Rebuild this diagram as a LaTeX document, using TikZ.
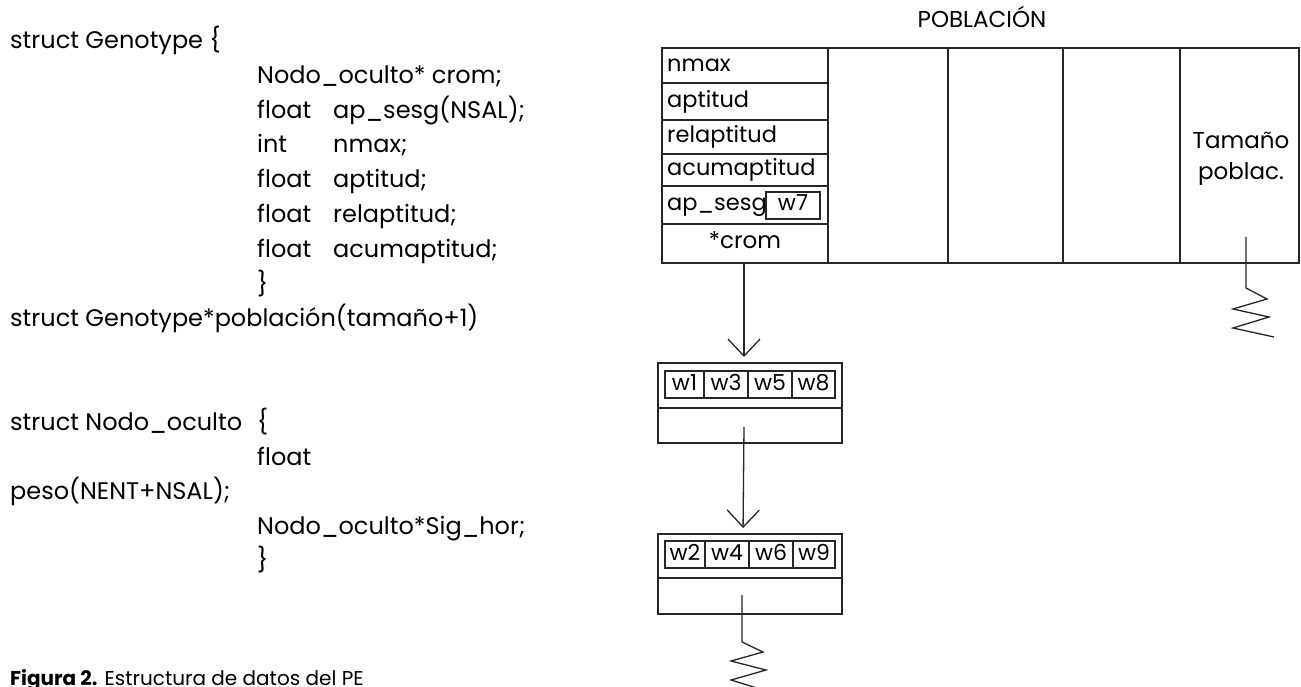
\documentclass[tikz,border=0pt]{standalone}
\usepackage{fontspec}
\setmainfont{Poppins}
\usetikzlibrary{arrows.meta}
\begin{document}
\begin{tikzpicture}[x=1pt,y=-1pt,
  code/.style={anchor=west,inner sep=0pt,text height=0.7em,text depth=0pt,font=\fontsize{24}{28}\selectfont},
  lab/.style={anchor=west,inner sep=0pt,text height=0.7em,text depth=0pt,font=\fontsize{22.5}{27}\selectfont},
  clab/.style={anchor=center,inner sep=0pt,text height=0.7em,text depth=0pt,font=\fontsize{23}{27}\selectfont},
  wlab/.style={anchor=center,inner sep=0pt,text height=0.7em,text depth=0pt,font=\fontsize{22}{26}\selectfont},
  ln/.style={line width=1.3pt,draw=black!85},
  ptr/.style={ln,-{Straight Barb[length=17pt,width=32pt]},shorten >=6pt},
  spring/.style={ln,line join=miter}
]
\useasboundingbox (0,0) rectangle (1301,687);
\fill[white] (0,0) rectangle (1301,687);

% ---- left code: struct Genotype
\node[code] (g0) at (10,45) {struct Genotype \{};
\node[code] (g1) at (257,80) {Nodo\_oculto* crom;};
\node[code] (g2a) at (257,115) {float};
\node[code] (g2b) at (333,115) {ap\_sesg(NSAL);};
\node[code] (g3a) at (257,149) {int};
\node[code] (g3b) at (333,149) {nmax;};
\node[code] (g4a) at (257,184) {float};
\node[code] (g4b) at (333,184) {aptitud;};
\node[code] (g5a) at (257,219) {float};
\node[code] (g5b) at (333,219) {relaptitud;};
\node[code] (g6a) at (257,254) {float};
\node[code] (g6b) at (333,254) {acumaptitud;};
\node[code] (g7) at (257,289) {\}};
\node[code] (g8) at (10,323) {struct Genotype*población(tamaño+1)};

% ---- left code: struct Nodo_oculto
\node[code] (n0) at (10,427) {struct Nodo\_oculto};
\node[code] (n0b) at (257,427) {\{};
\node[code] (n1) at (257,461.5) {float};
\node[code] (n2) at (10,496) {peso(NENT+NSAL);};
\node[code] (n3) at (257,530.5) {Nodo\_oculto*Sig\_hor;};
\node[code] (n4) at (257,565) {\}};

% ---- caption (cut by the page edge, as in the reference)
\node[anchor=north west,inner sep=0pt,text height=0.7em,text depth=0pt,font=\fontsize{20}{24}\selectfont] (cap) at (10,678) {\textbf{Figura 2.} Estructura de datos del PE};

% ---- POBLACION array
\node[clab] (pobt) at (982,24) {POBLACIÓN};
\draw[ln] (662,48) rectangle (1299,263);
\foreach \xx in {828,948,1063,1180} \draw[ln] (\xx,48) -- (\xx,263);
\foreach \yy in {83,120,154,186,224} \draw[ln] (662,\yy) -- (828,\yy);
\node[lab] (f1) at (667,68) {nmax};
\node[lab] (f2) at (667,104) {aptitud};
\node[lab] (f3) at (667,139.5) {relaptitud};
\node[lab] (f4) at (667,172.5) {acumaptitud};
\node[lab] (f5) at (667,207) {ap\_sesg};
\draw[ln] (766,192) rectangle (820,219);
\node[wlab] (w7) at (793,207) {w7};
\node[clab] (crom) at (745,245) {*crom};
\coordinate (cromb) at (744,263);
\node[clab] (tam1) at (1241,145) {Tamaño};
\node[clab] (tam2) at (1241,176) {poblac.};

% spring on last column
\draw[spring] (1246,237) -- (1246,288) -- (1267,299) -- (1233,309) -- (1269,317) -- (1233,328) -- (1274,337);

% ---- first hidden node
\coordinate (b1top) at (744,363);
\draw[ln] (658,363) rectangle (842,443);
\draw[ln] (658,408) -- (842,408);
\draw[ln] (665,371) rectangle (835,398);
\foreach \xx in {704,748,792} \draw[ln] (\xx,371) -- (\xx,398);
\node[wlab] (w1) at (684.5,387) {w1};
\node[wlab] (w3) at (726,387) {w3};
\node[wlab] (w5) at (770,387) {w5};
\node[wlab] (w8) at (813.5,387) {w8};
\coordinate (b1p) at (744,427);

% ---- second hidden node
\coordinate (b2top) at (743,534);
\draw[ln] (658,534) rectangle (842,614);
\draw[ln] (658,578) -- (842,578);
\draw[ln] (665,541) rectangle (835,568);
\foreach \xx in {705,749,793} \draw[ln] (\xx,541) -- (\xx,568);
\node[wlab] (w2) at (685,556.5) {w2};
\node[wlab] (w4) at (727,556.5) {w4};
\node[wlab] (w6) at (771,556.5) {w6};
\node[wlab] (w9) at (814,556.5) {w9};

% pointers
\draw[ptr] (cromb) -- (b1top);
\draw[ptr] (b1p) -- (b2top);

% spring at end of list
\draw[spring] (742,595) -- (742,642) -- (763,652) -- (731,661) -- (766,670) -- (731,680) -- (760,689);
\end{tikzpicture}
\end{document}
